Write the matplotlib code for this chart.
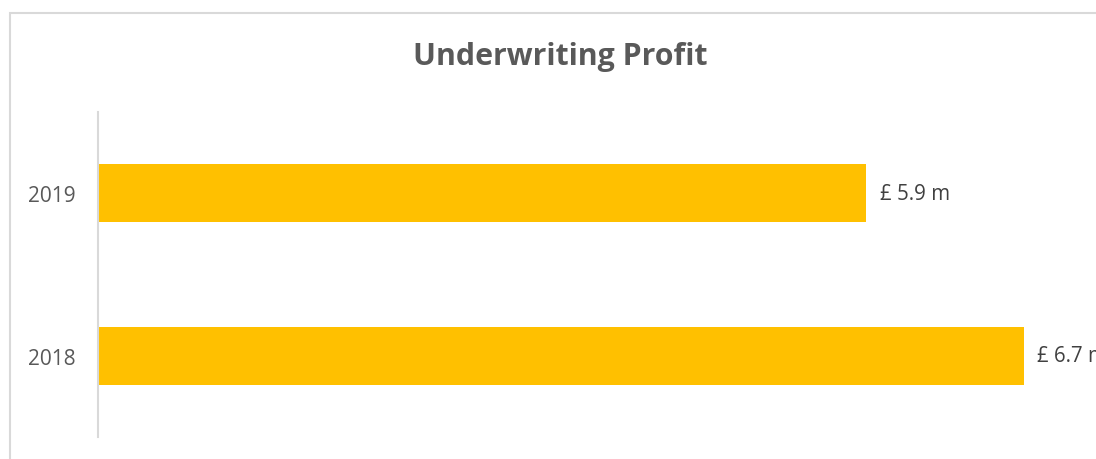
import matplotlib
matplotlib.use("Agg")
import matplotlib.pyplot as plt
from matplotlib.patches import Rectangle

categories = ["2018", "2019"]
values = [6.7, 5.9]
labels = ["£ 6.7 m", "£ 5.9 m"]
title = "Underwriting Profit"

plt.rcParams['font.family'] = ['Open Sans', 'DejaVu Sans']

W, H = 1096, 460
fig = plt.figure(figsize=(W / 100, H / 100), dpi=100)
fig.patch.set_facecolor("white")

# outer chart border
fig.add_artist(Rectangle((10 / W, -10 / H), (W + 20) / W, (H - 14 + 10) / H,
                         transform=fig.transFigure, fill=False,
                         edgecolor="#d9d9d9", lw=1.5))

left, right = 98 / W, 1.0
bottom, top = 1 - 438 / H, 1 - 113 / H
ax = fig.add_axes([left, bottom, right - left, top - bottom])

ypos = list(range(len(categories)))
bars = ax.barh(ypos, values, height=0.356, color="#ffc000", zorder=2)

k = 196.5
xmin = 1.99
ax.set_xlim(xmin, xmin + (W - 98) / k)
ax.set_ylim(-0.5, len(categories) - 0.5)

ax.set_yticks(ypos)
ax.set_yticklabels(categories, fontsize=15, color="#595959")
ax.tick_params(axis="y", length=0, pad=16)
ax.set_xticks([])

for s in ["top", "right", "bottom"]:
    ax.spines[s].set_visible(False)
ax.spines["left"].set_color("#d9d9d9")
ax.spines["left"].set_linewidth(1.5)

for b, lab in zip(bars, labels):
    ax.annotate(lab, (b.get_width(), b.get_y() + b.get_height() / 2),
                xytext=(9.5, 0), textcoords="offset points",
                va="center", ha="left", fontsize=14.8, color="#404040",
                annotation_clip=False)

fig.text(560 / W, 1 - 57 / H, title, ha="center", va="center",
         fontsize=21.8, fontweight="bold", color="#595959")

fig.savefig("out.png", dpi=100)
